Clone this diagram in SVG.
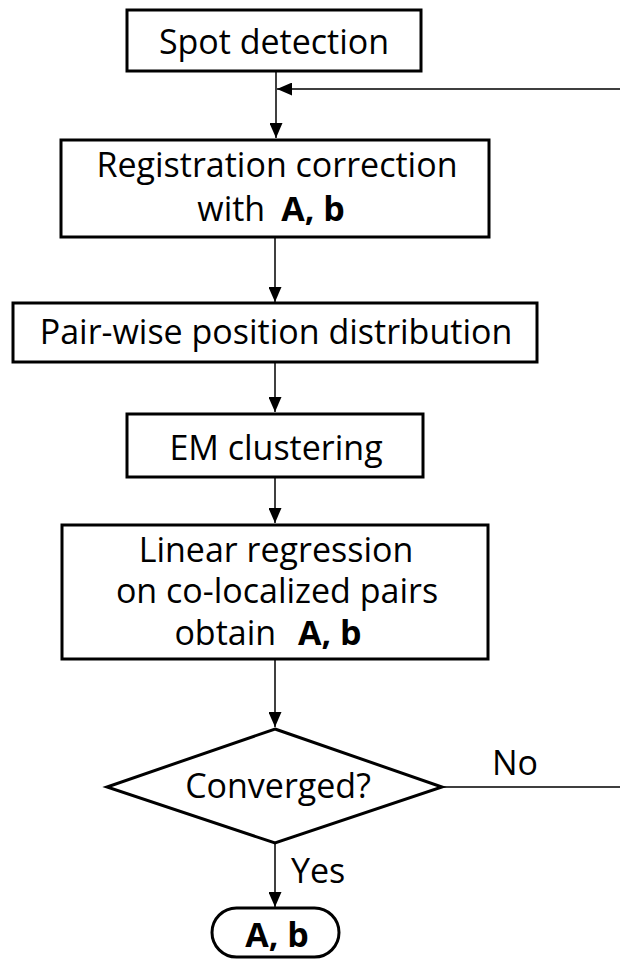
<svg xmlns="http://www.w3.org/2000/svg" width="620" height="959" viewBox="0 0 620 959">
<style>
.box{fill:#fff;stroke:#000;stroke-width:3}
.t{font-family:"Open Sans","Liberation Sans",sans-serif;font-size:34px;fill:#000}
.b{font-weight:bold}
.c{fill:none;stroke:#000;stroke-width:1.5}
</style>
<defs>
<marker id="ah" markerUnits="userSpaceOnUse" markerWidth="15" markerHeight="13" refX="15" refY="6.5" orient="auto">
<path d="M0,0 L15,6.5 L0,13 z" fill="#000"/>
</marker>
</defs>
<g id="connectors">
<line class="c" x1="276" y1="71" x2="276" y2="138" marker-end="url(#ah)"/>
<path class="c" d="M442,787 H623 V89 H277" marker-end="url(#ah)"/>
<line class="c" x1="275" y1="237" x2="275" y2="302" marker-end="url(#ah)"/>
<line class="c" x1="275" y1="362" x2="275" y2="412" marker-end="url(#ah)"/>
<line class="c" x1="275" y1="477" x2="275" y2="523" marker-end="url(#ah)"/>
<line class="c" x1="275" y1="660" x2="275" y2="727" marker-end="url(#ah)"/>
<line class="c" x1="275" y1="843" x2="275" y2="907" marker-end="url(#ah)"/>
<text class="t" x="492" y="775">No</text>
<text class="t" x="291" y="883">Yes</text>
</g>
<g id="spot">
<rect class="box" x="127" y="10" width="294" height="61"/>
<text class="t" x="274" y="54" text-anchor="middle">Spot detection</text>
</g>
<g id="registration">
<rect class="box" x="61" y="140" width="428" height="97"/>
<text class="t" x="277" y="177" text-anchor="middle">Registration correction</text>
<text class="t" x="271" y="221" text-anchor="middle">with<tspan class="b" dx="16">A, b</tspan></text>
</g>
<g id="pairwise">
<rect class="box" x="13" y="303" width="524" height="59"/>
<text class="t" x="276" y="344" text-anchor="middle">Pair-wise position distribution</text>
</g>
<g id="em">
<rect class="box" x="127" y="414" width="296" height="63"/>
<text class="t" x="276" y="460" text-anchor="middle">EM clustering</text>
</g>
<g id="linear">
<rect class="box" x="62" y="525" width="426" height="134"/>
<text class="t" x="276" y="562" text-anchor="middle">Linear regression</text>
<text class="t" x="277" y="603" text-anchor="middle">on co-localized pairs</text>
<text class="t" x="268" y="645" text-anchor="middle">obtain<tspan class="b" dx="22">A, b</tspan></text>
</g>
<g id="converged">
<polygon class="box" points="275,729 442,787 275,843 107,787"/>
<text class="t" x="278" y="798" text-anchor="middle">Converged?</text>
</g>
<g id="result">
<rect class="box" x="212" y="908" width="127" height="49" rx="24.5" stroke-width="2.5"/>
<text class="t b" x="277" y="947" text-anchor="middle">A, b</text>
</g>
</svg>
